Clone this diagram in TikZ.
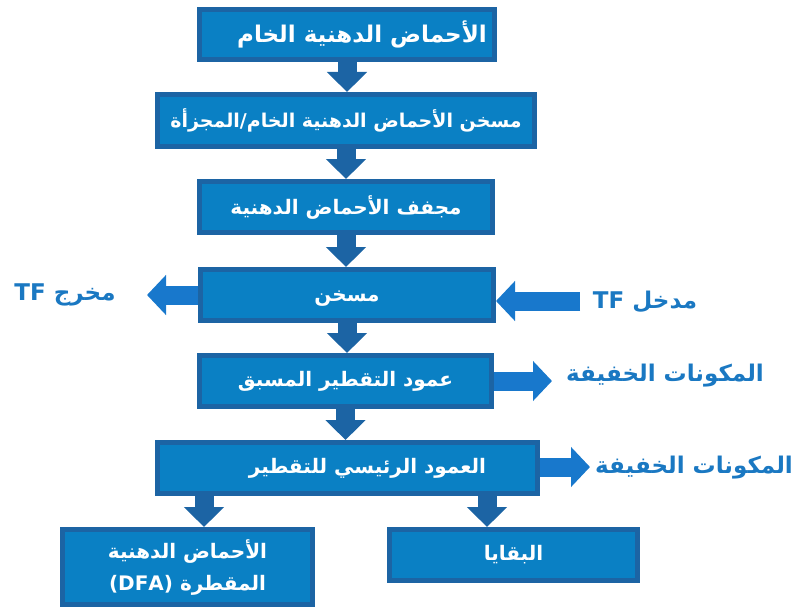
\documentclass[tikz,border=0pt]{standalone}
\usepackage{fontspec}
\usetikzlibrary{arrows.meta}
\TeXXeTstate=1
\newfontfamily\arabicfont[Script=Arabic]{DejaVu Sans}
\definecolor{boxfill}{HTML}{0A80C4}
\definecolor{boxedge}{HTML}{1C64A4}
\definecolor{sidearrow}{HTML}{1878CC}
\definecolor{labelblue}{HTML}{1A78C2}
\begin{document}
\begin{tikzpicture}[x=1pt,y=-1pt,
  flowbox/.style={draw=boxedge, line width=5pt, fill=boxfill, text=white, inner sep=0pt,
    font=\arabicfont\bfseries\fontsize{20}{32}\selectfont, align=center},
  downarrow/.style={draw=boxedge, line width=19pt, -{Triangle[width=39pt,length=20pt]}},
  sidearr/.style={draw=sidearrow, line width=19pt, -{Triangle[width=39pt,length=19pt]}},
  sidelabel/.style={text=labelblue, font=\arabicfont\bfseries\fontsize{23}{26}\selectfont, inner sep=0pt}]
\useasboundingbox (0,0) rectangle (806,610);
\node[flowbox, minimum width=295pt, minimum height=50pt, font=\arabicfont\bfseries\fontsize{23}{30}\selectfont] (b1) at (347,34.5) {\hspace*{30pt}\beginR الأحماض الدهنية الخام\endR};
\node[flowbox, minimum width=377pt, minimum height=52pt, font=\arabicfont\bfseries\fontsize{19}{30}\selectfont] (b2) at (346,120.5) {\beginR مسخن الأحماض الدهنية الخام/المجزأة\endR};
\node[flowbox, minimum width=293pt, minimum height=51pt] (b3) at (346,207) {\beginR مجفف الأحماض الدهنية\endR};
\node[flowbox, minimum width=293pt, minimum height=51pt] (b4) at (347,295) {\raisebox{-6pt}[0pt][0pt]{\beginR مسخن\endR}};
\node[flowbox, minimum width=292pt, minimum height=51pt] (b5) at (345.5,381) {\beginR عمود التقطير المسبق\endR};
\node[flowbox, minimum width=380pt, minimum height=51pt] (b6) at (347.5,468) {\hspace*{40pt}\beginR العمود الرئيسي للتقطير\endR};
\node[flowbox, minimum width=250pt, minimum height=75pt] (b7) at (187.5,567) {\beginR الأحماض الدهنية\endR\\\beginR المقطرة \beginL(DFA)\endL\endR};
\node[flowbox, minimum width=248pt, minimum height=51pt] (b8) at (513.5,555) {\beginR البقايا\endR};
% vertical arrows
\draw[downarrow] (b1.south) -- (b1.south |- b2.north);
\draw[downarrow] (b2.south) -- (b2.south |- b3.north);
\draw[downarrow] (b3.south) -- (b3.south |- b4.north);
\draw[downarrow] (b4.south) -- (b4.south |- b5.north);
\draw[downarrow] (b5.south) -- (b5.south |- b6.north);
\coordinate (s7) at (204,496);
\coordinate (s8) at (487,496);
\draw[downarrow] (s7) -- (s7 |- b7.north);
\draw[downarrow] (s8) -- (s8 |- b8.north);
% side arrows
\coordinate (tfout) at (147,295);
\coordinate (tfin) at (580,301);
\coordinate (lt1) at (552,381);
\coordinate (lt2) at (590,467);
\draw[sidearr] (b4.west |- tfout) -- (tfout);
\draw[sidearr] (tfin) -- (tfin -| b4.east);
\draw[sidearr] (b5.east |- lt1) -- (lt1);
\draw[sidearr] (b6.east |- lt2) -- (lt2);
% labels
\node[sidelabel] (lout) at (65,295) {\beginR مخرج TF\endR};
\node[sidelabel] (lin) at (645,302) {\beginR مدخل TF\endR};
\node[sidelabel] (lc1) at (665,376) {\beginR المكونات الخفيفة\endR};
\node[sidelabel] (lc2) at (694,468) {\beginR المكونات الخفيفة\endR};
\end{tikzpicture}
\end{document}
